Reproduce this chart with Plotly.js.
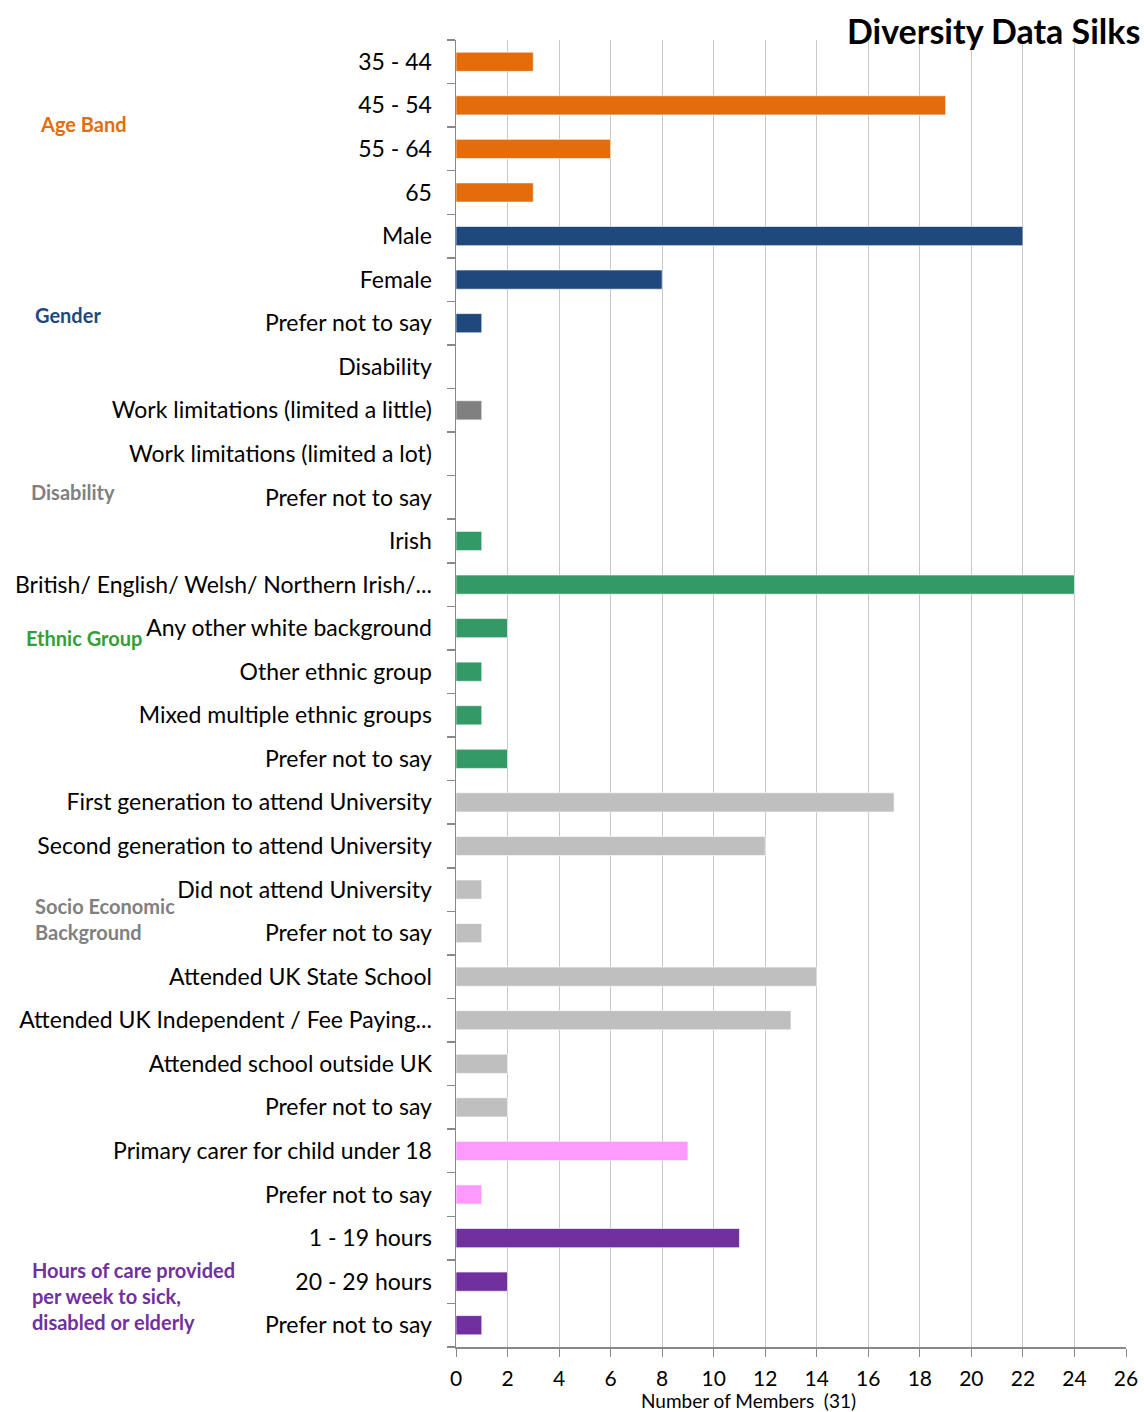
<!DOCTYPE html>
<html>
<head>
<meta charset="utf-8">
<script src="https://cdn.plot.ly/plotly-3.0.1.min.js"></script>
<style>html,body{margin:0;padding:0;background:#fff;}#chart{width:1144px;height:1412px;}</style>
</head>
<body>
<div id="chart"></div>
<script>
// ---- data ----
const categories = [
  "35 - 44", "45 - 54", "55 - 64", "65",
  "Male", "Female", "Prefer not to say",
  "Disability", "Work limitations (limited a little)", "Work limitations (limited a lot)", "Prefer not to say",
  "Irish", "British/ English/ Welsh/ Northern Irish/...", "Any other white background", "Other ethnic group", "Mixed multiple ethnic groups", "Prefer not to say",
  "First generation to attend University", "Second generation to attend University", "Did not attend University", "Prefer not to say",
  "Attended UK State School", "Attended UK Independent / Fee Paying...", "Attended school outside UK", "Prefer not to say",
  "Primary carer for child under 18", "Prefer not to say",
  "1 - 19 hours", "20 - 29 hours", "Prefer not to say"
];
const values = [
  3, 19, 6, 3,
  22, 8, 1,
  0, 1, 0, 0,
  1, 24, 2, 1, 1, 2,
  17, 12, 1, 1,
  14, 13, 2, 2,
  9, 1,
  11, 2, 1
];
const groups = [
  "age","age","age","age",
  "gender","gender","gender",
  "disability","disability","disability","disability",
  "ethnic","ethnic","ethnic","ethnic","ethnic","ethnic",
  "socio","socio","socio","socio","socio","socio","socio","socio",
  "carer","carer",
  "hours","hours","hours"
];
const xTickVals = [0,2,4,6,8,10,12,14,16,18,20,22,24,26];
const groupLabels = ["Age Band", "Gender", "Disability", "Ethnic Group", "Socio Economic<br>Background", "Hours of care provided<br>per week to sick,<br>disabled or elderly"];
const chartTitle = "Diversity Data Silks";
const xTitle = "Number of Members  (31)";

// ---- styles ----
const barColors = {age:"#E46C0A", gender:"#1F497D", disability:"#808080", ethnic:"#339966", socio:"#BFBFBF", carer:"#FF99FF", hours:"#7030A0"};
const labelStyle = [
  {y:1.43, x:-0.6238, color:"#E46C0A"},
  {y:5.81, x:-0.6313, color:"#1F497D"},
  {y:9.87, x:-0.6373, color:"#808080"},
  {y:13.22, x:-0.6448, color:"#33A033"},
  {y:19.67, x:-0.6313, color:"#808080"},
  {y:28.33, x:-0.6358, color:"#7030A0"}
];

const idx = categories.map((c,i)=>i);
const trace = {
  type:"bar", orientation:"h",
  x: values, y: idx,
  marker:{color: groups.map(g=>barColors[g]), line:{color:"rgba(255,255,255,0.6)", width:1}},
  width: 0.44,
  hoverinfo:"x+text", text: categories, textposition:"none"
};

const font = "Lato, 'Open Sans', sans-serif";
const annotations = groupLabels.map((t,i)=>({
  text: t, xref:"paper", yref:"y", x: labelStyle[i].x, y: labelStyle[i].y,
  xanchor:"left", yanchor:"middle", align:"left", showarrow:false,
  font:{family:font, size:20, color:labelStyle[i].color, weight:"bold"}
}));
annotations.push({
  text: chartTitle, xref:"paper", yref:"paper", x:1.024, y:1.0,
  xanchor:"right", yanchor:"middle", showarrow:false, yshift:10,
  font:{family:font, size:34, color:"#000", weight:"bold"}
});
annotations.push({
  text: xTitle, xref:"paper", yref:"paper", x:0.437, y:0,
  xanchor:"center", yanchor:"middle", showarrow:false, yshift:-53,
  font:{family:font, size:19, color:"#000"}
});

const layout = {
  width:1144, height:1412,
  margin:{l:456, r:18, t:40, b:65},
  paper_bgcolor:"#fff", plot_bgcolor:"#fff",
  showlegend:false,
  font:{family:font, color:"#000"},
  xaxis:{
    range:[0,26], tickvals:xTickVals, showgrid:true, gridcolor:"#C8C8C8", gridwidth:1,
    zeroline:false, showline:true, linecolor:"#888", linewidth:1.5,
    ticks:"outside", ticklen:8, tickcolor:"#888",
    tickfont:{size:21, color:"#000", family:font}, ticklabelstandoff:4,
    fixedrange:true
  },
  yaxis:{
    range:[29.5,-0.5], tickvals:idx, ticktext:categories, ticks:"",
    showgrid:false, zeroline:false, showline:true, linecolor:"#888", linewidth:1.5,
    tickfont:{size:23, color:"#000", family:font}, ticklabelstandoff:18,
    minor:{tickmode:"linear", tick0:0.5, dtick:1, ticks:"outside", ticklen:8, tickcolor:"#888", tickwidth:1.5, showgrid:false},
    fixedrange:true
  },
  annotations: annotations
};

Plotly.newPlot("chart", [trace], layout, {displayModeBar:false, staticPlot:true});
</script>
</body>
</html>
